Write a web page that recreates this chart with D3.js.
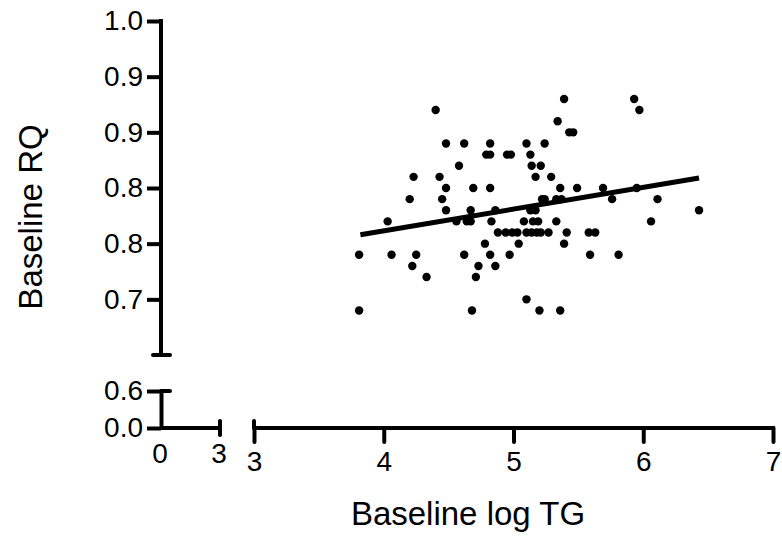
<!DOCTYPE html>
<html>
<head>
<meta charset="utf-8">
<script src="https://d3js.org/d3.v7.min.js"></script>
<style>
  body { margin: 0; background: #fff; }
  svg text { font-family: "Liberation Sans", Arial, Helvetica, sans-serif; fill: #000; }
</style>
</head>
<body>
<svg id="chart" width="782" height="537"></svg>
<script>
// data, one entry per dot
var logTG = [
  5.39, 5.93,
  4.40, 5.97,
  5.34,
  5.43, 5.46,
  4.48, 4.62, 4.82, 5.10, 5.24,
  4.79, 4.82, 4.95, 4.98, 5.13,
  4.58, 5.14, 5.21,
  4.23, 4.43, 5.17, 5.29,
  4.48, 4.69, 4.82, 5.36, 5.49, 5.69, 5.95,
  4.20, 4.45, 5.22, 5.24, 5.33, 5.37, 5.76, 6.11,
  4.48, 4.67, 4.86, 5.13, 5.17, 6.43,
  4.03, 4.56, 4.64, 4.67, 4.83, 5.08, 5.15, 5.19, 5.33, 6.06,
  4.88, 4.94, 4.99, 5.03, 5.10, 5.14, 5.18, 5.21, 5.27, 5.41, 5.58, 5.63,
  4.78, 5.04, 5.39,
  3.81, 4.06, 4.25, 4.62, 4.82, 4.97, 5.59, 5.81,
  4.22, 4.73, 4.86,
  4.33, 4.71,
  5.10,
  3.81, 4.68, 5.20, 5.36
];
var rq = [
  0.93, 0.93,
  0.92, 0.92,
  0.91,
  0.90, 0.90,
  0.89, 0.89, 0.89, 0.89, 0.89,
  0.88, 0.88, 0.88, 0.88, 0.88,
  0.87, 0.87, 0.87,
  0.86, 0.86, 0.86, 0.86,
  0.85, 0.85, 0.85, 0.85, 0.85, 0.85, 0.85,
  0.84, 0.84, 0.84, 0.84, 0.84, 0.84, 0.84, 0.84,
  0.83, 0.83, 0.83, 0.83, 0.83, 0.83,
  0.82, 0.82, 0.82, 0.82, 0.82, 0.82, 0.82, 0.82, 0.82, 0.82,
  0.81, 0.81, 0.81, 0.81, 0.81, 0.81, 0.81, 0.81, 0.81, 0.81, 0.81, 0.81,
  0.80, 0.80, 0.80,
  0.79, 0.79, 0.79, 0.79, 0.79, 0.79, 0.79, 0.79,
  0.78, 0.78, 0.78,
  0.77, 0.77,
  0.75,
  0.74, 0.74, 0.74, 0.74
];

// fitted line ends
var fitX = [3.82, 6.43];
var fitY = [0.808, 0.859];

// broken axes: ticks and labels as printed
var yTicksTop = [1.0, 0.95, 0.90, 0.85, 0.80, 0.75];
var yLabelsTop = ["1.0", "0.9", "0.9", "0.8", "0.8", "0.7"];
var yTicksLow = [0.0, 0.6];
var yLabelsLow = ["0.0", "0.6"];
var xTicksLow = [0, 3];
var xTicksMain = [3, 4, 5, 6, 7];

var svg = d3.select("#chart");

var yTop = d3.scaleLinear().domain([0.70, 1.0]).range([355, 21]);
var yLow = d3.scaleLinear().domain([0, 0.6]).range([428, 391]);
var xLow = d3.scaleLinear().domain([0, 3]).range([161, 220]);
var xMain = d3.scaleLinear().domain([3, 7]).range([254, 773]);

var AX = 161, AY = 428, SW = 4;
var tickFont = "28px", titleFont = "33px";

function styleAxis(g) {
  g.selectAll("path, line").attr("stroke", "#000").attr("stroke-width", SW);
  g.selectAll("text").style("font-size", tickFont);
}

// upper y segment
var gyT = svg.append("g").attr("transform", "translate(" + AX + ",0)")
  .call(d3.axisLeft(yTop).tickValues(yTicksTop)
    .tickFormat(function(d, i) { return yLabelsTop[i]; })
    .tickSize(14).tickSizeOuter(0).tickPadding(4));
styleAxis(gyT);
gyT.select(".domain").attr("d", "M0," + (yTop(1.0) - SW / 2) + "V" + yTop(0.70));
gyT.append("line").attr("x1", -8).attr("x2", 9)
  .attr("y1", yTop(0.70)).attr("y2", yTop(0.70))
  .attr("stroke", "#000").attr("stroke-width", SW).attr("stroke-linecap", "round");

// lower y segment
var gyL = svg.append("g").attr("transform", "translate(" + AX + ",0)")
  .call(d3.axisLeft(yLow).tickValues(yTicksLow)
    .tickFormat(function(d, i) { return yLabelsLow[i]; })
    .tickSize(14).tickSizeOuter(0).tickPadding(4));
styleAxis(gyL);
gyL.append("line").attr("x1", 0).attr("x2", 9)
  .attr("y1", yLow(0.6)).attr("y2", yLow(0.6))
  .attr("stroke", "#000").attr("stroke-width", SW).attr("stroke-linecap", "round");

// lower x segment (no tick marks, only end cap)
var gxL = svg.append("g").attr("transform", "translate(0," + AY + ")");
gxL.append("line").attr("x1", xLow(0)).attr("x2", xLow(3)).attr("y1", 0).attr("y2", 0)
  .attr("stroke", "#000").attr("stroke-width", SW);
gxL.append("line").attr("x1", xLow(3)).attr("x2", xLow(3)).attr("y1", -7).attr("y2", 7)
  .attr("stroke", "#000").attr("stroke-width", SW).attr("stroke-linecap", "round");
gxL.selectAll("text.lab").data(xTicksLow).enter().append("text")
  .attr("class", "lab")
  .attr("x", function(d) { return xLow(d) - 1; })
  .attr("y", 35)
  .attr("text-anchor", "middle")
  .style("font-size", tickFont)
  .text(function(d) { return d; });

// main x segment
var gxM = svg.append("g").attr("transform", "translate(0," + AY + ")")
  .call(d3.axisBottom(xMain).tickValues(xTicksMain).tickFormat(d3.format("d"))
    .tickSize(14).tickSizeOuter(0).tickPadding(9));
styleAxis(gxM);
gxM.select(".domain").attr("d", "M" + xMain(3) + ",0H" + (xMain(7) + SW / 2));
gxM.append("line").attr("x1", xMain(3)).attr("x2", xMain(3)).attr("y1", -7).attr("y2", 0)
  .attr("stroke", "#000").attr("stroke-width", SW).attr("stroke-linecap", "round");
gxM.selectAll(".tick line").attr("stroke-linecap", "round");

// dots
svg.append("g").selectAll("circle").data(logTG).enter().append("circle")
  .attr("cx", function(d) { return xMain(d); })
  .attr("cy", function(d, i) { return yTop(rq[i]); })
  .attr("r", 4.2)
  .attr("fill", "#000");

// regression line
svg.append("line")
  .attr("x1", xMain(fitX[0])).attr("y1", yTop(fitY[0]))
  .attr("x2", xMain(fitX[1])).attr("y2", yTop(fitY[1]))
  .attr("stroke", "#000").attr("stroke-width", 5);

// titles
svg.append("text")
  .attr("x", 468).attr("y", 525)
  .attr("text-anchor", "middle")
  .style("font-size", titleFont)
  .text("Baseline log TG");

svg.append("text")
  .attr("transform", "translate(42,217) rotate(-90)")
  .attr("text-anchor", "middle")
  .style("font-size", titleFont)
  .text("Baseline RQ");
</script>
</body>
</html>
